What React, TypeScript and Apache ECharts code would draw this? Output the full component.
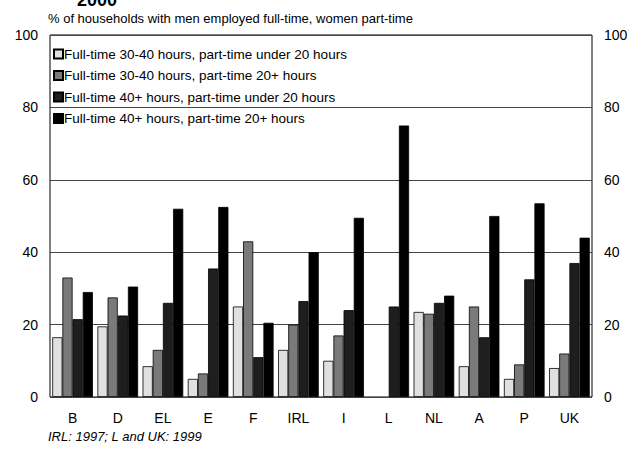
import React, { useEffect, useRef } from "react";
import * as echarts from "echarts";

const categories = ["B", "D", "EL", "E", "F", "IRL", "I", "L", "NL", "A", "P", "UK"];
const seriesNames = [
  "Full-time 30-40 hours, part-time under 20 hours",
  "Full-time 30-40 hours, part-time 20+ hours",
  "Full-time 40+ hours, part-time under 20 hours",
  "Full-time 40+ hours, part-time 20+ hours",
];
const ft3040Under20 = [16.5, 19.5, 8.5, 5, 25, 13, 10, 0, 23.5, 8.5, 5, 8];
const ft3040Over20 = [33, 27.5, 13, 6.5, 43, 20, 17, 0, 23, 25, 9, 12];
const ft40Under20 = [21.5, 22.5, 26, 35.5, 11, 26.5, 24, 25, 26, 16.5, 32.5, 37];
const ft40Over20 = [29, 30.5, 52, 52.5, 20.5, 40, 49.5, 75, 28, 50, 53.5, 44];
const yTicks = [0, 20, 40, 60, 80, 100];

const seriesData = [ft3040Under20, ft3040Over20, ft40Under20, ft40Over20];
const colors = ["#e0e0e0", "#7a7a7a", "#1e1e1e", "#000000"];
const FONT = "Liberation Sans, Arial, sans-serif";

export default function App() {
  const ref = useRef<HTMLDivElement>(null);
  useEffect(() => {
    if (!ref.current) return;
    const chart = echarts.init(ref.current, null, { renderer: "svg" });
    const yAxisBase = {
      type: "value" as const,
      min: yTicks[0],
      max: yTicks[yTicks.length - 1],
      interval: 20,
      axisLine: { show: false },
      axisTick: { show: false },
      axisLabel: { color: "#000", fontSize: 14, fontFamily: FONT, margin: 12 },
    };
    chart.setOption({
      animation: false,
      backgroundColor: "#fff",
      textStyle: { fontFamily: FONT, color: "#000" },
      grid: {
        left: 50,
        right: 41,
        top: 35,
        bottom: 53,
        show: true,
        borderColor: "#000",
        borderWidth: 1,
      },
      graphic: [
        {
          type: "text",
          left: 77,
          top: -9,
          style: { text: "2000", font: "bold 18px " + FONT, fill: "#000" },
        },
        {
          type: "text",
          left: 48,
          top: 12,
          style: {
            text: "% of households with men employed full-time, women part-time",
            font: "13px " + FONT,
            fill: "#000",
          },
        },
        {
          type: "text",
          left: 48,
          top: 430,
          style: {
            text: "IRL: 1997; L and UK: 1999",
            font: "italic 13px " + FONT,
            fill: "#000",
          },
        },
      ],
      legend: {
        orient: "vertical",
        left: 48,
        top: 42,
        itemWidth: 9,
        itemHeight: 9,
        itemGap: 7.5,
        icon: "rect",
        textStyle: { fontSize: 13.5, fontFamily: FONT, color: "#000", padding: [0, 0, 0, -4] },
        data: seriesNames,
      },
      xAxis: {
        type: "category",
        data: categories,
        axisLine: { show: false },
        axisTick: { show: false },
        axisLabel: { color: "#000", fontSize: 14, fontFamily: FONT, margin: 14 },
      },
      yAxis: [
        {
          ...yAxisBase,
          position: "left",
          splitLine: { show: true, lineStyle: { color: "#444", width: 1 } },
        },
        {
          ...yAxisBase,
          position: "right",
          splitLine: { show: false },
        },
      ],
      series: seriesNames.map((name, i) => ({
        name,
        type: "bar",
        data: seriesData[i].map((v) => ({
          value: v,
          itemStyle: v === 0 ? { borderWidth: 0 } : undefined,
        })),
        barGap: "0%",
        barCategoryGap: "10%",
        itemStyle: { color: colors[i], borderColor: "#000", borderWidth: 0.8 },
      })),
    });
    return () => chart.dispose();
  }, []);
  return (
    <div
      ref={ref}
      style={{ position: "fixed", left: 0, top: 0, width: 633, height: 450 }}
    />
  );
}
